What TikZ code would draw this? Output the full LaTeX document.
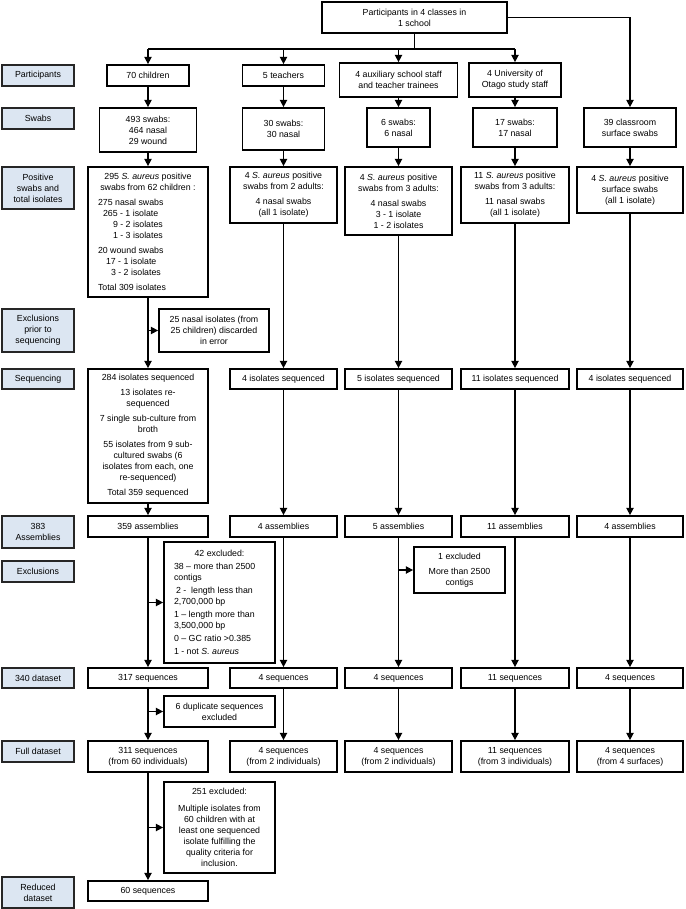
\documentclass[tikz,border=0pt]{standalone}
\usepackage{fontspec}
\setmainfont{Liberation Sans}
\usetikzlibrary{arrows.meta}
\definecolor{labfill}{RGB}{220,230,242}

\begin{document}
\begin{tikzpicture}[x=0.75pt,y=-0.75pt,
  box/.style={draw=black,line width=1.3pt,align=center,inner sep=1pt,font=\fontsize{6.6}{8.25}\selectfont},
  lab/.style={box,fill=labfill,draw=black!85,minimum width=54pt},
  arr/.style={-{Triangle[length=5.5pt,width=5.5pt]},line width=1.05pt},
  line/.style={line width=1.05pt},
]
\useasboundingbox (0,0) rectangle (685,909);
% row labels
\node[lab,minimum height=15.75pt] (lpart) at (38,75.5) {Participants};
\node[lab,minimum height=15.75pt] (lswab) at (38,118.5) {Swabs};
\node[lab,minimum height=31.5pt] (lpos) at (38,188) {Positive\\swabs and\\total isolates};
\node[lab,minimum height=32.25pt] (lexcl) at (38,330.5) {Exclusions\\prior to\\sequencing};
\node[lab,minimum height=15pt] (lseq) at (38,379) {Sequencing};
\node[lab,minimum height=24pt] (lasm) at (38,532) {383\\Assemblies};
\node[lab,minimum height=15.75pt] (lexcl2) at (38,571.5) {Exclusions};
\node[lab,minimum height=15pt] (lds) at (38,678) {340 dataset};
\node[lab,minimum height=15.75pt] (lfull) at (38,751.5) {Full dataset};
\node[lab,minimum height=23.25pt] (lred) at (38,892.5) {Reduced\\dataset};
% top
\node[box,minimum width=138.75pt,minimum height=23.25pt] (top) at (414.5,17.5) {Participants in 4 classes in\\1 school};
% children
\node[box,minimum width=61.5pt,minimum height=15.75pt] (chp) at (148,75.5) {70 children};
\node[box,minimum width=72.75pt,minimum height=33pt] (chs) at (148,130) {493 swabs:\\464 nasal\\29 wound};
\node[box,minimum width=90pt,minimum height=97.5pt] (chpos) at (148,232) {295 \textit{S. aureus} positive\\swabs from 62 children :\\[3pt]
  \makebox[75pt][l]{275 nasal swabs}\\
  \makebox[75pt][l]{\hspace{3.75pt}265 - 1 isolate}\\
  \makebox[75pt][l]{\hspace{11.25pt}9 - 2 isolates}\\
  \makebox[75pt][l]{\hspace{11.25pt}1 - 3 isolates}\\[3pt]
  \makebox[75pt][l]{20 wound swabs}\\
  \makebox[75pt][l]{\hspace{6pt}17 - 1 isolate}\\
  \makebox[75pt][l]{\hspace{9.75pt}3 - 2 isolates}\\[3pt]
  \makebox[75pt][l]{Total 309 isolates}};
\node[box,minimum width=90pt,minimum height=100.5pt] (chseq) at (148,436) {284 isolates sequenced\\[3pt]13 isolates re-\\sequenced\\[3pt]7 single sub-culture from\\broth\\[3pt]55 isolates from 9 sub-\\cultured swabs (6\\isolates from each, one\\re-sequenced)\\[3pt]Total 359 sequenced};
\node[box,minimum width=90pt,minimum height=15.75pt] (chasm) at (148,526.5) {359 assemblies};
\node[box,minimum width=90pt,minimum height=15pt] (chds) at (148,678) {317 sequences};
\node[box,minimum width=90pt,minimum height=23.25pt] (chfull) at (148,756.5) {311 sequences\\(from 60 individuals)};
\node[box,minimum width=90pt,minimum height=15pt] (chred) at (148,891) {60 sequences};
% teachers
\node[box,minimum width=61.5pt,minimum height=15.75pt] (tep) at (283.5,75.5) {5 teachers};
\node[box,minimum width=61.5pt,minimum height=31.5pt] (tes) at (283.5,129) {30 swabs:\\30 nasal};
\node[box,minimum width=80.25pt,minimum height=42pt] (tepos) at (283.5,195) {4 \textit{S. aureus} positive\\swabs from 2 adults:\\[3pt]4 nasal swabs\\(all 1 isolate)};
\node[box,minimum width=80.25pt,minimum height=15pt] (teseq) at (283.5,379) {4 isolates sequenced};
\node[box,minimum width=80.25pt,minimum height=15.75pt] (teasm) at (283.5,526.5) {4 assemblies};
\node[box,minimum width=80.25pt,minimum height=15pt] (teds) at (283.5,678) {4 sequences};
\node[box,minimum width=80.25pt,minimum height=23.25pt] (tefull) at (283.5,756.5) {4 sequences\\(from 2 individuals)};
% auxiliary staff
\node[box,minimum width=88.5pt,minimum height=25.5pt] (axp) at (398.5,80) {4 auxiliary school staff\\and teacher trainees};
\node[box,minimum width=47.25pt,minimum height=29.25pt] (axs) at (398.5,127.5) {6 swabs:\\6 nasal};
\node[box,minimum width=80.25pt,minimum height=51pt] (axpos) at (398.5,201) {4 \textit{S. aureus} positive\\swabs from 3 adults:\\[3pt]4 nasal swabs\\3 - 1 isolate\\1 - 2 isolates};
\node[box,minimum width=80.25pt,minimum height=15pt] (axseq) at (398.5,379) {5 isolates sequenced};
\node[box,minimum width=80.25pt,minimum height=15.75pt] (axasm) at (398.5,526.5) {5 assemblies};
\node[box,minimum width=80.25pt,minimum height=15pt] (axds) at (398.5,678) {4 sequences};
\node[box,minimum width=80.25pt,minimum height=23.25pt] (axfull) at (398.5,756.5) {4 sequences\\(from 2 individuals)};
% study staff
\node[box,minimum width=69pt,minimum height=25.5pt] (stp) at (515,80) {4 University of\\Otago study staff};
\node[box,minimum width=63pt,minimum height=29.25pt] (sts) at (515,127.5) {17 swabs:\\17 nasal};
\node[box,minimum width=81pt,minimum height=42pt] (stpos) at (515,195) {11 \textit{S. aureus} positive\\swabs from 3 adults:\\[3pt]11 nasal swabs\\(all 1 isolate)};
\node[box,minimum width=81pt,minimum height=15pt] (stseq) at (515,379) {11 isolates sequenced};
\node[box,minimum width=81pt,minimum height=15.75pt] (stasm) at (515,526.5) {11 assemblies};
\node[box,minimum width=81pt,minimum height=15pt] (stds) at (515,678) {11 sequences};
\node[box,minimum width=81pt,minimum height=23.25pt] (stfull) at (515,756.5) {11 sequences\\(from 3 individuals)};
% surfaces
\node[box,minimum width=69pt,minimum height=29.25pt] (sus) at (630,127.5) {39 classroom\\surface swabs};
\node[box,minimum width=79.5pt,minimum height=34.5pt] (supos) at (630,190) {4 \textit{S. aureus} positive\\surface swabs\\(all 1 isolate)};
\node[box,minimum width=79.5pt,minimum height=15pt] (suseq) at (630,379) {4 isolates sequenced};
\node[box,minimum width=79.5pt,minimum height=15.75pt] (suasm) at (630,526.5) {4 assemblies};
\node[box,minimum width=79.5pt,minimum height=15pt] (suds) at (630,678) {4 sequences};
\node[box,minimum width=79.5pt,minimum height=23.25pt] (sufull) at (630,756.5) {4 sequences\\(from 4 surfaces)};
% exclusions
\node[box,minimum width=82.5pt,minimum height=32.25pt] (excl1) at (214,330.5) {25 nasal isolates (from\\25 children) discarded\\in error};
\node[box,minimum width=83.25pt,minimum height=90.75pt] (excl2) at (219.5,602.5) {42 excluded:\\[1.5pt]
  \makebox[68.25pt][l]{38 – more than 2500}\\
  \makebox[68.25pt][l]{contigs}\\[1.5pt]
  \makebox[68.25pt][l]{\hspace{1.5pt}2 -\ \ length less than}\\
  \makebox[68.25pt][l]{2,700,000 bp}\\[1.5pt]
  \makebox[68.25pt][l]{1 – length more than}\\
  \makebox[68.25pt][l]{3,500,000 bp}\\[1.5pt]
  \makebox[68.25pt][l]{0 – GC ratio >0.385}\\[1.5pt]
  \makebox[68.25pt][l]{1 - not \textit{S. aureus}}};
\node[box,minimum width=68.25pt,minimum height=34.5pt] (excl3) at (459.5,570) {1 excluded\\[3pt]More than 2500\\contigs};
\node[box,minimum width=83.25pt,minimum height=23.25pt] (excl4) at (219.5,711.5) {6 duplicate sequences\\excluded};
\node[box,minimum width=83.25pt,minimum height=68.25pt] (excl5) at (219.5,827.5) {251 excluded:\\[4pt]Multiple isolates from\\60 children with at\\least one sequenced\\isolate fulfilling the\\quality criteria for\\inclusion.};
% connectors
\coordinate (bus) at (414.5,49);
\draw[line] (top.south) -- (bus);
\draw[line] (bus -| chp) -- (bus -| stp);
\draw[arr] (bus -| chp) -- (chp.north);
\draw[arr] (bus -| tep) -- (tep.north);
\draw[arr] (bus -| axp) -- (axp.north);
\draw[arr] (bus -| stp) -- (stp.north);
\draw[arr] (top.east) -| (sus.north);
\draw[arr] (chp) -- (chs);
\draw[arr] (chs) -- (chpos);
\draw[arr] (chpos) -- (chseq);
\draw[arr] (chseq) -- (chasm);
\draw[arr] (chasm) -- (chds);
\draw[arr] (chds) -- (chfull);
\draw[arr] (chfull) -- (chred);
\draw[arr] (tep) -- (tes);
\draw[arr] (tes) -- (tepos);
\draw[arr] (tepos) -- (teseq);
\draw[arr] (teseq) -- (teasm);
\draw[arr] (teasm) -- (teds);
\draw[arr] (teds) -- (tefull);
\draw[arr] (axp) -- (axs);
\draw[arr] (axs) -- (axpos);
\draw[arr] (axpos) -- (axseq);
\draw[arr] (axseq) -- (axasm);
\draw[arr] (axasm) -- (axds);
\draw[arr] (axds) -- (axfull);
\draw[arr] (stp) -- (sts);
\draw[arr] (sts) -- (stpos);
\draw[arr] (stpos) -- (stseq);
\draw[arr] (stseq) -- (stasm);
\draw[arr] (stasm) -- (stds);
\draw[arr] (stds) -- (stfull);
\draw[arr] (sus) -- (supos);
\draw[arr] (supos) -- (suseq);
\draw[arr] (suseq) -- (suasm);
\draw[arr] (suasm) -- (suds);
\draw[arr] (suds) -- (sufull);
\draw[arr] (chpos.south |- excl1.west) -- (excl1.west);
\draw[arr] (chasm.south |- excl2.west) -- (excl2.west);
\draw[arr] (axasm.south |- excl3.west) -- (excl3.west);
\draw[arr] (chds.south |- excl4.west) -- (excl4.west);
\draw[arr] (chfull.south |- excl5.west) -- (excl5.west);
\end{tikzpicture}
\end{document}
